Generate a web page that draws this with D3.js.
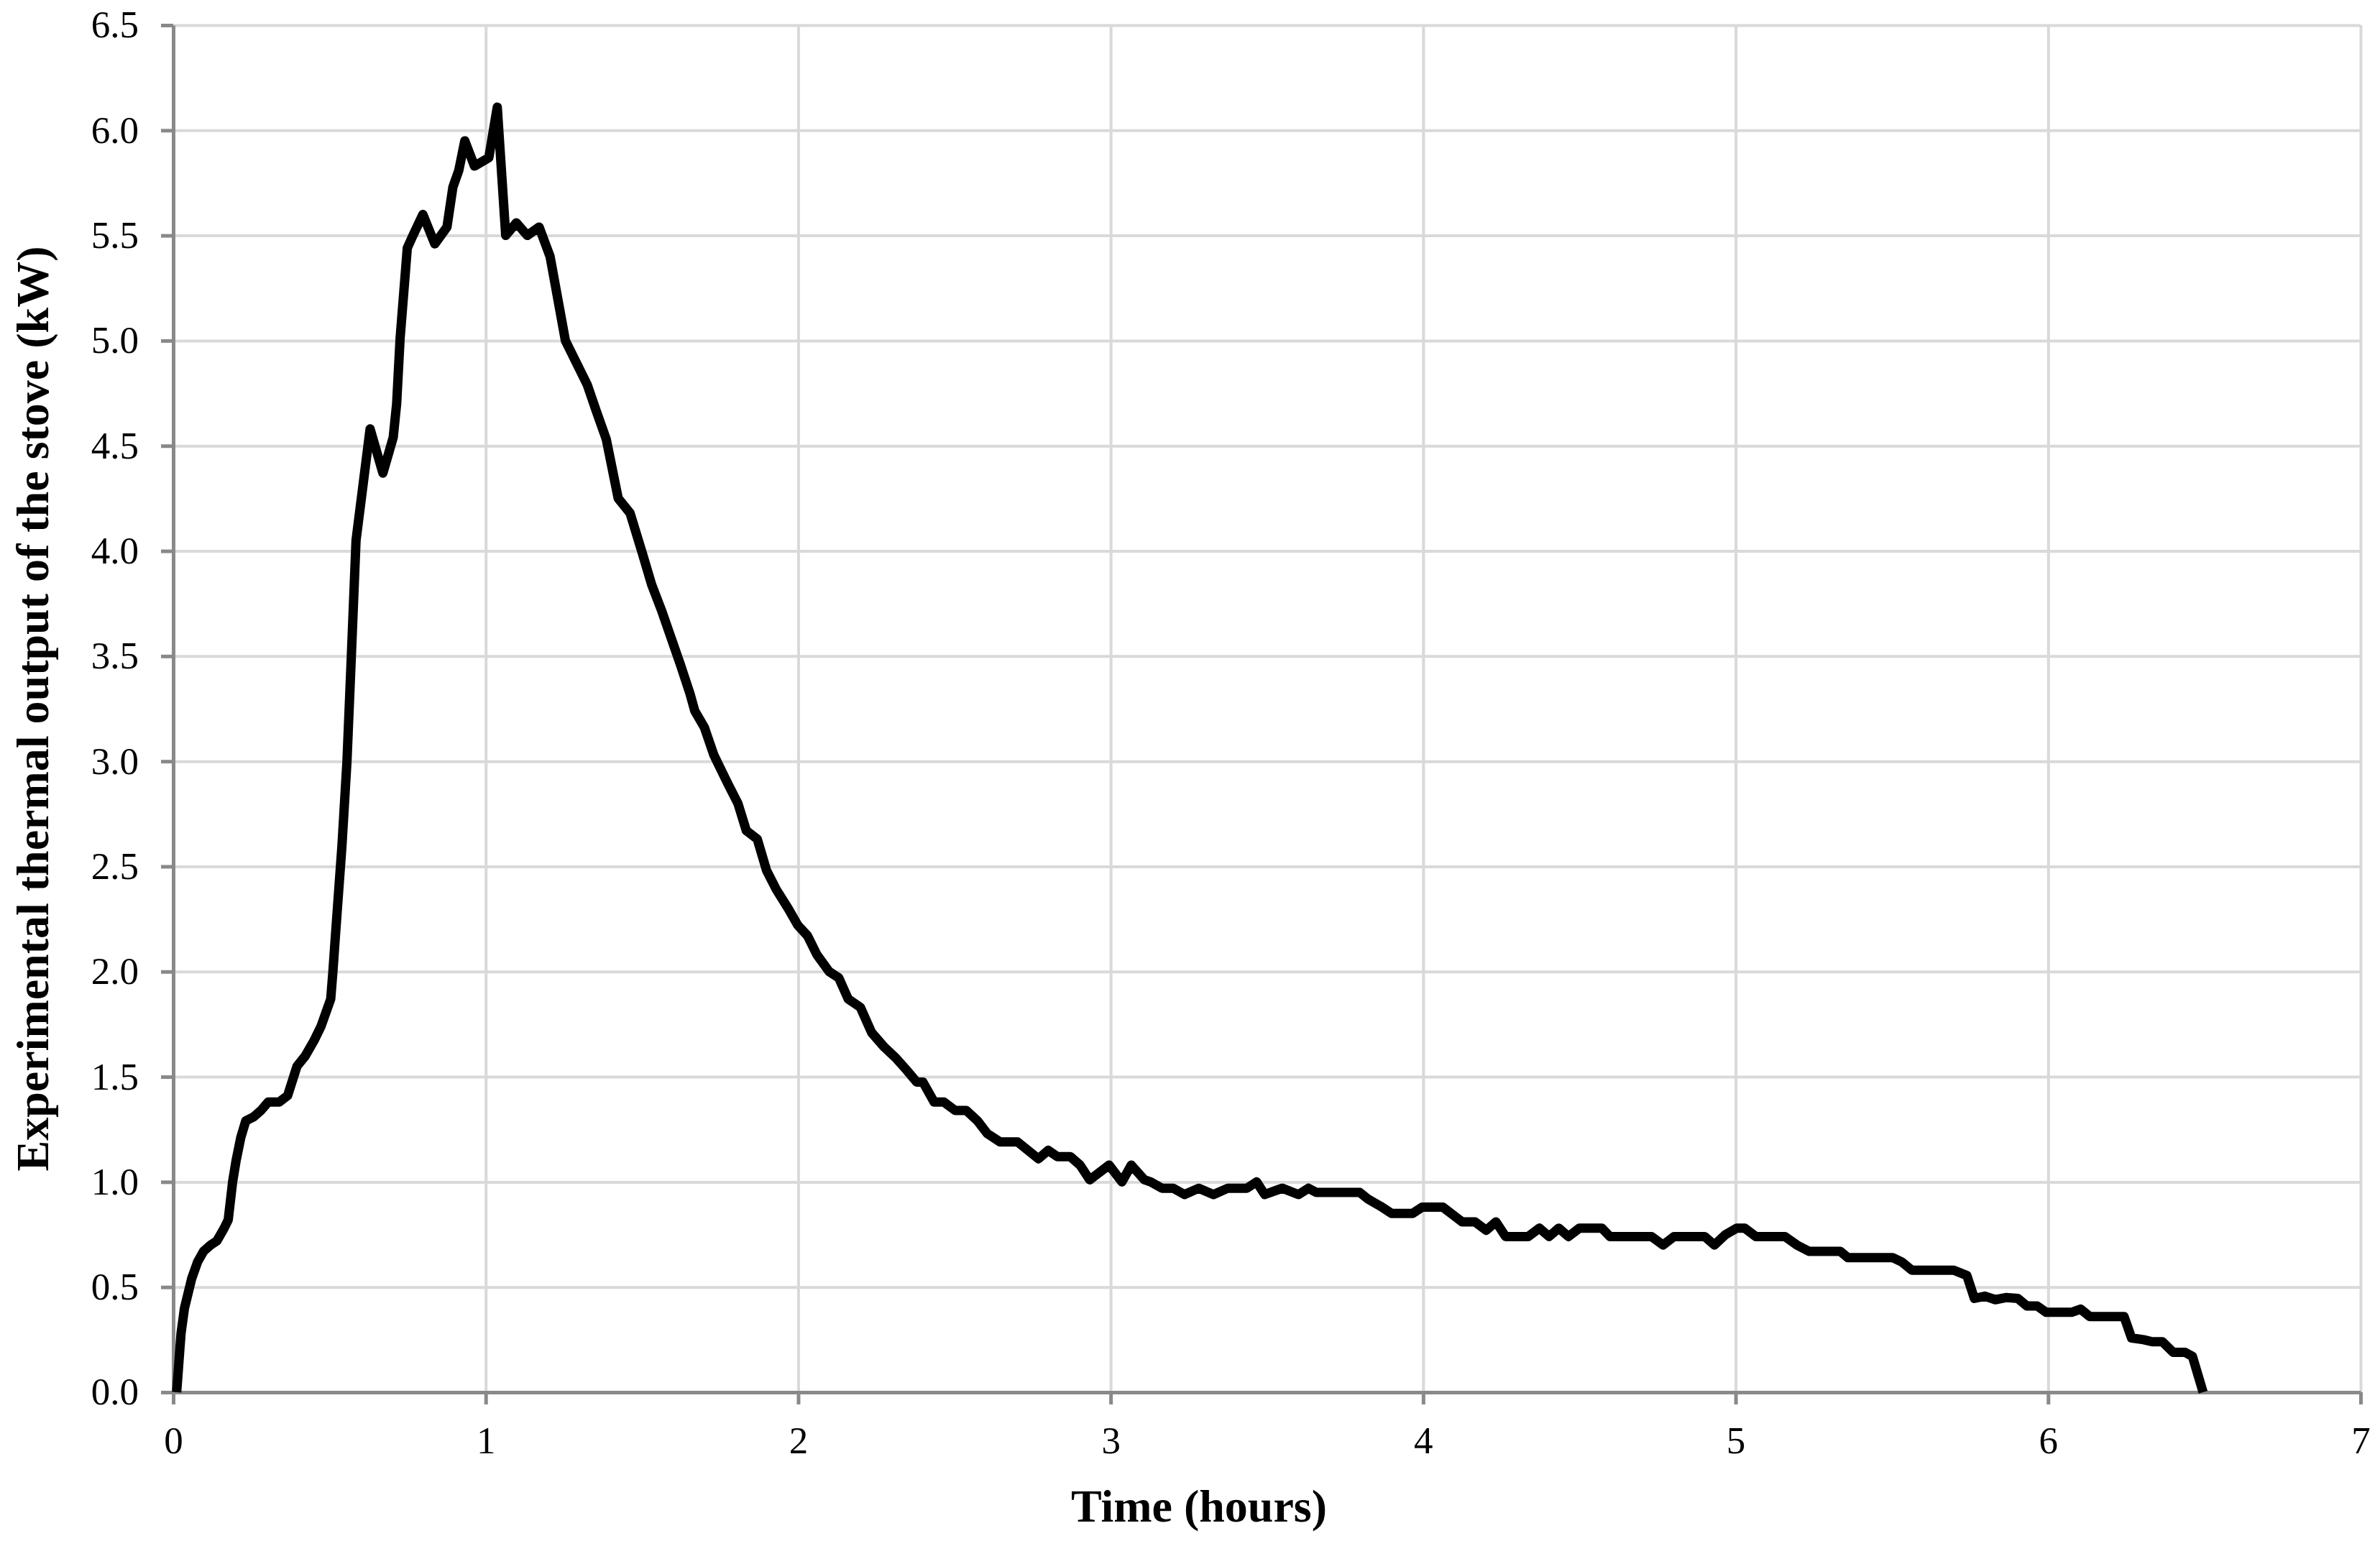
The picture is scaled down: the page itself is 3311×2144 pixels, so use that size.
<!DOCTYPE html>
<html>
<head>
<meta charset="utf-8">
<script src="https://cdn.jsdelivr.net/npm/d3@7"></script>
<style>
  body { margin: 0; background: #fff; }
  svg { display: block; }
</style>
</head>
<body>
<script>
const width = 3311;
const height = 2144;

// time in hours
const timeH = [
  0.011, 0.025, 0.036, 0.059, 0.078, 0.097, 0.120, 0.140, 0.163, 0.176,
  0.190, 0.201, 0.216, 0.232, 0.258, 0.281, 0.304, 0.339, 0.366, 0.396,
  0.423, 0.450, 0.473, 0.504, 0.511, 0.519, 0.540, 0.556, 0.570, 0.585,
  0.630, 0.671, 0.704, 0.715, 0.726, 0.749, 0.764, 0.799, 0.837, 0.876,
  0.895, 0.914, 0.933, 0.964, 1.010, 1.037, 1.064, 1.098, 1.133, 1.171,
  1.206, 1.255, 1.325, 1.355, 1.386, 1.424, 1.462, 1.501, 1.531, 1.562,
  1.623, 1.654, 1.669, 1.700, 1.730, 1.776, 1.807, 1.834, 1.869, 1.899,
  1.930, 1.968, 1.999, 2.030, 2.060, 2.099, 2.130, 2.160, 2.199, 2.235,
  2.276, 2.312, 2.348, 2.379, 2.399, 2.435, 2.466, 2.502, 2.538, 2.574,
  2.605, 2.646, 2.702, 2.769, 2.800, 2.830, 2.871, 2.902, 2.933, 2.995,
  3.036, 3.066, 3.108, 3.128, 3.164, 3.200, 3.236, 3.282, 3.329, 3.375,
  3.436, 3.467, 3.493, 3.549, 3.601, 3.633, 3.658, 3.797, 3.822, 3.863,
  3.899, 3.966, 3.997, 4.063, 4.125, 4.166, 4.202, 4.233, 4.264, 4.336,
  4.372, 4.403, 4.434, 4.465, 4.500, 4.572, 4.598, 4.731, 4.768, 4.803,
  4.901, 4.932, 4.968, 5.003, 5.029, 5.065, 5.158, 5.196, 5.235, 5.335,
  5.359, 5.502, 5.531, 5.564, 5.698, 5.740, 5.764, 5.798, 5.831, 5.865,
  5.903, 5.932, 5.965, 5.994, 6.075, 6.104, 6.133, 6.243, 6.267, 6.305,
  6.333, 6.366, 6.400, 6.438, 6.462, 6.496
];

// thermal output in kW
const outputKW = [
  0.00, 0.28, 0.40, 0.54, 0.62, 0.67, 0.70, 0.72, 0.78, 0.82,
  1.00, 1.10, 1.21, 1.29, 1.31, 1.34, 1.38, 1.38, 1.41, 1.55,
  1.60, 1.67, 1.74, 1.87, 2.00, 2.17, 2.60, 3.00, 3.50, 4.05,
  4.58, 4.37, 4.54, 4.70, 5.01, 5.44, 5.49, 5.60, 5.46, 5.54,
  5.73, 5.81, 5.95, 5.83, 5.87, 6.11, 5.50, 5.56, 5.50, 5.54,
  5.40, 5.00, 4.79, 4.66, 4.53, 4.25, 4.18, 3.99, 3.84, 3.72,
  3.46, 3.32, 3.24, 3.16, 3.03, 2.89, 2.80, 2.67, 2.63, 2.48,
  2.39, 2.30, 2.22, 2.17, 2.08, 2.00, 1.97, 1.87, 1.83, 1.71,
  1.64, 1.59, 1.53, 1.475, 1.475, 1.38, 1.38, 1.34, 1.34, 1.29,
  1.23, 1.19, 1.19, 1.11, 1.15, 1.12, 1.12, 1.08, 1.01, 1.08,
  1.00, 1.08, 1.01, 1.00, 0.97, 0.97, 0.94, 0.97, 0.94, 0.97,
  0.97, 1.00, 0.94, 0.97, 0.94, 0.97, 0.95, 0.95, 0.92, 0.885,
  0.85, 0.85, 0.88, 0.88, 0.81, 0.81, 0.77, 0.81, 0.74, 0.74,
  0.78, 0.74, 0.78, 0.74, 0.78, 0.78, 0.74, 0.74, 0.70, 0.74,
  0.74, 0.70, 0.75, 0.78, 0.78, 0.74, 0.74, 0.70, 0.67, 0.67,
  0.64, 0.64, 0.62, 0.58, 0.58, 0.555, 0.446, 0.457, 0.44, 0.45,
  0.446, 0.41, 0.41, 0.38, 0.38, 0.395, 0.36, 0.36, 0.258, 0.25,
  0.24, 0.24, 0.19, 0.19, 0.17, 0.00
];

const xTicks = [0, 1, 2, 3, 4, 5, 6, 7];
const yTicks = [0, 0.5, 1, 1.5, 2, 2.5, 3, 3.5, 4, 4.5, 5, 5.5, 6, 6.5];

const xLabel = "Time (hours)";
const yLabel = "Experimental thermal output of the stove (kW)";

const margin = { top: 35, right: 27, bottom: 207, left: 241 };
const plotW = width - margin.left - margin.right;
const plotH = height - margin.top - margin.bottom;

const data = timeH.map((t, i) => ({ t: t, v: outputKW[i] }));

const x = d3.scaleLinear().domain([0, 7]).range([0, plotW]);
const y = d3.scaleLinear().domain([0, 6.5]).range([plotH, 0]);

const svg = d3
  .select("body")
  .append("svg")
  .attr("width", width)
  .attr("height", height)
  .attr("viewBox", [0, 0, width, height])
  .style("font-family", "'Liberation Serif', 'Times New Roman', serif");

svg.append("rect").attr("width", width).attr("height", height).attr("fill", "#fff");

const g = svg.append("g").attr("transform", `translate(${margin.left},${margin.top})`);

// gridlines
g.append("g")
  .attr("class", "grid")
  .call(d3.axisLeft(y).tickValues(yTicks.slice(1)).tickSize(-plotW).tickFormat(""))
  .call((s) => s.select(".domain").remove())
  .call((s) => s.selectAll("line").attr("stroke", "#d9d9d9").attr("stroke-width", 4));

g.append("g")
  .attr("class", "grid")
  .attr("transform", `translate(0,${plotH})`)
  .call(d3.axisBottom(x).tickValues(xTicks.slice(1)).tickSize(-plotH).tickFormat(""))
  .call((s) => s.select(".domain").remove())
  .call((s) => s.selectAll("line").attr("stroke", "#d9d9d9").attr("stroke-width", 4));

// axes
const yAxis = g
  .append("g")
  .call(d3.axisLeft(y).tickValues(yTicks).tickSize(17).tickSizeOuter(0).tickPadding(31).tickFormat(d3.format(".1f")));

const xAxis = g
  .append("g")
  .attr("transform", `translate(0,${plotH})`)
  .call(d3.axisBottom(x).tickValues(xTicks).tickSize(17).tickSizeOuter(0).tickPadding(30).tickFormat(d3.format("d")));

[yAxis, xAxis].forEach((a) => {
  a.select(".domain").attr("stroke", "#898989").attr("stroke-width", 5);
  a.selectAll(".tick line").attr("stroke", "#898989").attr("stroke-width", 5);
  a.selectAll(".tick text")
    .attr("fill", "#000")
    .style("font-size", "53px")
    .style("font-family", "'Liberation Serif', 'Times New Roman', serif");
});

// the series
const line = d3
  .line()
  .x((d) => x(d.t))
  .y((d) => y(d.v));

g.append("path")
  .datum(data)
  .attr("fill", "none")
  .attr("stroke", "#000")
  .attr("stroke-width", 13)
  .attr("stroke-linejoin", "round")
  .attr("stroke-linecap", "butt")
  .attr("d", line);

// axis titles
svg.append("text")
  .attr("x", 1668)
  .attr("y", 2117)
  .attr("text-anchor", "middle")
  .style("font-size", "64px")
  .style("font-weight", "bold")
  .text(xLabel);

svg.append("text")
  .attr("transform", `translate(67,${margin.top + plotH / 2}) rotate(-90)`)
  .attr("text-anchor", "middle")
  .style("font-size", "64px")
  .style("font-weight", "bold")
  .text(yLabel);
</script>
</body>
</html>
